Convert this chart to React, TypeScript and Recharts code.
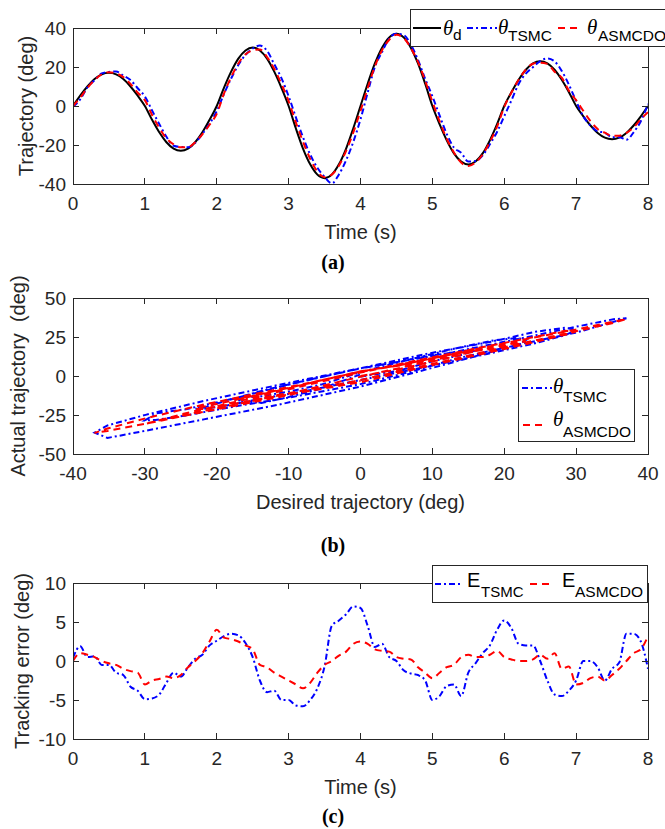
import React from 'react';
import { LineChart, Line, XAxis, YAxis, Legend } from 'recharts';

// ---------- data ----------
const time = [
  0, 0.1, 0.2, 0.3, 0.4, 0.5, 0.6, 0.7, 0.8, 0.9,
  1, 1.1, 1.2, 1.3, 1.4, 1.5, 1.6, 1.7, 1.8, 1.9,
  2, 2.1, 2.2, 2.3, 2.4, 2.5, 2.6, 2.7, 2.8, 2.9,
  3, 3.1, 3.2, 3.3, 3.4, 3.5, 3.6, 3.7, 3.8, 3.9,
  4, 4.1, 4.2, 4.3, 4.4, 4.5, 4.6, 4.7, 4.8, 4.9,
  5, 5.1, 5.2, 5.3, 5.4, 5.5, 5.6, 5.7, 5.8, 5.9,
  6, 6.1, 6.2, 6.3, 6.4, 6.5, 6.6, 6.7, 6.8, 6.9,
  7, 7.1, 7.2, 7.3, 7.4, 7.5, 7.6, 7.7, 7.8, 7.9,
  8,
];

const thetaD = [
  0, 5.3, 10, 13.8, 16.2, 17, 16.2, 13.8, 10, 5.3,
  0, -7.1, -13.5, -18.6, -21.9, -23, -21.9, -18.6, -13.5, -7.1,
  0, 9.3, 17.6, 24.3, 28.5, 30, 28.5, 24.3, 17.6, 9.3,
  0, -11.4, -21.8, -29.9, -35.2, -37, -35.2, -29.9, -21.8, -11.4,
  0, 11.4, 21.8, 29.9, 35.2, 37, 35.2, 29.9, 21.8, 11.4,
  0, -9.3, -17.6, -24.3, -28.5, -30, -28.5, -24.3, -17.6, -9.3,
  0, 7.1, 13.5, 18.6, 21.9, 23, 21.9, 18.6, 13.5, 7.1,
  0, -5.3, -10, -13.8, -16.2, -17, -16.2, -13.8, -10, -5.3,
  0,
];

const thetaTSMC = [
  -0.4, 3.4, 9.5, 13.2, 16.7, 17.5, 17.7, 15.6, 13.3, 9.1,
  4.9, -2.3, -9.2, -15.8, -20.4, -21, -21.1, -18.9, -14.3, -9.1,
  -2.6, 6.1, 14.1, 21, 26.2, 29.5, 31, 28.3, 21.4, 14.3,
  5, -5.7, -16, -24.9, -31.7, -36.3, -39.7, -35.1, -27.8, -18.4,
  -6.8, 6.9, 20, 27.7, 34.7, 37, 36.4, 31.5, 23.6, 13.9,
  5, -4.8, -14.4, -21.3, -24, -28.5, -28.2, -25.3, -19.6, -13.3,
  -5.2, 2.9, 11.3, 16.6, 19.9, 23, 24.4, 22.9, 18, 10.9,
  2.5, -5.3, -10, -13, -13.7, -16, -16, -17.3, -13.5, -7.8,
  1,
];

const thetaASMCDO = [
  0, 4.3, 9.2, 13.3, 16.2, 17.3, 16.7, 14.8, 11.3, 6.8,
  3, -4.6, -11.2, -16.6, -19.7, -21.2, -21.1, -18.6, -14.5, -9.6,
  -4, 6.3, 14.8, 21.8, 26.5, 28.5, 29, 25.1, 19.1, 11.3,
  2.5, -8.4, -18.3, -27.1, -33.7, -36.5, -35.2, -30.6, -23, -13.6,
  -2.5, 9.2, 20.3, 28.6, 34, 36.5, 34.9, 29.7, 22.6, 12.9,
  2.2, -7.8, -16.8, -23.8, -29, -30.8, -29, -24.8, -18.4, -10.6,
  -0.5, 6.9, 13.5, 18.6, 21.7, 22.2, 21.6, 17.6, 14.5, 7.8,
  3, -2.5, -7.8, -11.8, -13.7, -15.2, -15.2, -13.8, -11, -6.8,
  -3.2,
];

const errTSMC = [
  0.4, 1.9, 0.5, 0.6, -0.5, -0.5, -1.5, -1.8, -3.3, -3.8,
  -4.9, -4.8, -4.3, -2.8, -1.5, -2, -0.8, 0.3, 0.8, 2,
  2.6, 3.2, 3.5, 3.3, 2.3, 0.5, -2.5, -4, -3.8, -5,
  -5, -5.7, -5.8, -5, -3.5, -0.7, 4.5, 5.2, 6, 7,
  6.8, 4.5, 1.8, 2.2, 0.5, 0, -1.2, -1.6, -1.8, -2.5,
  -5, -4.5, -3.2, -3, -4.5, -1.5, -0.3, 1, 2, 4,
  5.2, 4.2, 2.2, 2, 2, 0, -2.5, -4.3, -4.5, -3.8,
  -2.5, 0, 0, -0.8, -2.5, -1, -0.2, 3.5, 3.5, 2.5,
  -1,
];

const errASMCDO = [
  0, 1, 0.8, 0.5, 0, -0.3, -0.5, -1, -1.3, -1.5,
  -3, -2.5, -2.3, -2, -2.2, -1.8, -0.8, 0, 1, 2.5,
  4, 3, 2.8, 2.5, 2, 1.5, -0.5, -0.8, -1.5, -2,
  -2.5, -3, -3.5, -2.8, -1.5, -0.5, 0, 0.7, 1.2, 2.2,
  2.5, 2.2, 1.5, 1.3, 1.2, 0.5, 0.3, 0.2, -0.8, -1.5,
  -2.2, -1.5, -0.8, -0.5, 0.5, 0.8, 0.5, 0.5, 0.8, 1.3,
  0.5, 0.2, 0, 0, 0.2, 0.8, 0.3, 1, -1, -0.7,
  -3, -2.8, -2.2, -2, -2.5, -1.8, -1, 0, 1, 1.5,
  3.2,
];

const timeTicks = [0, 1, 2, 3, 4, 5, 6, 7, 8];
const trajTicks = [-40, -20, 0, 20, 40];
const desiredTicks = [-40, -30, -20, -10, 0, 10, 20, 30, 40];
const actualTicks = [-50, -25, 0, 25, 50];
const errTicks = [-10, -5, 0, 5, 10];

const rows = time.map((t, i) => ({
  t,
  d: thetaD[i],
  ts: thetaTSMC[i],
  as: thetaASMCDO[i],
  es: errTSMC[i],
  ea: errASMCDO[i],
}));

// ---------- styles ----------
const SANS = "'Liberation Sans', Arial, Helvetica, sans-serif";
const SERIF = "'Liberation Serif', 'Times New Roman', serif";
const AX = '#262626';
const BLUE = '#0000ff';
const RED = '#ff0000';
const DASHDOT = '6 3 2 3';
const DASH = '7 5';
const tickStyle = { fill: AX, fontSize: 19, fontFamily: SANS };

// chart geometry (page pixels)
const CHART_W = 665;
const PLOT_LEFT = 73;
const PLOT_RIGHT = 648;
const PLOT_H = 156;
const AXIS_H = 30;
const YAXIS_W = 73;
const TICK_LEN = 6;

// legend boxes (page pixels)
const legendBoxA = { left: 410, top: 9, width: 262, height: 38 };
const legendBoxB = { left: 518, top: 369, width: 117, height: 73 };
const legendBoxC = { left: 432, top: 565, width: 216, height: 38 };

const xLabel = (value: string) => ({
  value,
  position: 'bottom' as const,
  offset: 11,
  fill: AX,
  fontSize: 20,
  fontFamily: SANS,
});
const yLabel = (value: string, dx: number) => ({
  value,
  angle: -90,
  position: 'insideLeft' as const,
  offset: 22,
  dx,
  fill: AX,
  fontSize: 20,
  fontFamily: SANS,
  style: { textAnchor: 'middle' },
});

const Theta = ({ x, y }: { x: number; y: number }) => (
  <text x={x} y={y} fontFamily={SERIF} fontStyle="italic" fontSize={21} fill="#000">
    θ
  </text>
);
const Sub = ({ x, y, t, size = 15.5 }: { x: number; y: number; t: string; size?: number }) => (
  <text x={x} y={y} fontFamily={SANS} fontSize={size} fill="#000">
    {t}
  </text>
);

const LegendA = () => (
  <svg width={262} height={38} style={{ display: 'block' }}>
    <rect x={0.5} y={0.5} width={261} height={37} fill="#fff" stroke={AX} />
    <line x1={3} y1={19} x2={31} y2={19} stroke="#000" strokeWidth={2} />
    <Theta x={33} y={26} />
    <Sub x={43} y={31} t="d" />
    <line x1={57} y1={19} x2={87} y2={19} stroke={BLUE} strokeWidth={2} strokeDasharray={DASHDOT} />
    <Theta x={88} y={25} />
    <Sub x={98} y={32} t="TSMC" />
    <line x1={148} y1={19} x2={172} y2={19} stroke={RED} strokeWidth={2} strokeDasharray={DASH} />
    <Theta x={177} y={25} />
    <Sub x={188} y={32} t="ASMCDO" />
  </svg>
);

const LegendB = () => (
  <svg width={117} height={73} style={{ display: 'block' }}>
    <rect x={0.5} y={0.5} width={116} height={72} fill="#fff" stroke={AX} />
    <line x1={4} y1={19} x2={34} y2={19} stroke={BLUE} strokeWidth={2} strokeDasharray={DASHDOT} />
    <Theta x={35} y={24} />
    <Sub x={45} y={33} t="TSMC" />
    <line x1={5} y1={56} x2={29} y2={56} stroke={RED} strokeWidth={2} strokeDasharray={DASH} />
    <Theta x={35} y={57} />
    <Sub x={45} y={68} t="ASMCDO" />
  </svg>
);

const LegendC = () => (
  <svg width={216} height={38} style={{ display: 'block' }}>
    <rect x={0.5} y={0.5} width={215} height={37} fill="#fff" stroke={AX} />
    <line x1={3} y1={19} x2={31} y2={19} stroke={BLUE} strokeWidth={2} strokeDasharray={DASHDOT} />
    <Sub x={35} y={22} t="E" size={20} />
    <Sub x={49} y={32} t="TSMC" size={15} />
    <line x1={98} y1={19} x2={122} y2={19} stroke={RED} strokeWidth={2} strokeDasharray={DASH} />
    <Sub x={130} y={22} t="E" size={20} />
    <Sub x={143} y={32} t="ASMCDO" size={15.5} />
  </svg>
);

const Caption = ({ text, cy }: { text: string; cy: number }) => (
  <div
    style={{
      position: 'absolute',
      left: 0,
      width: 666,
      top: cy - 12,
      height: 24,
      lineHeight: '24px',
      textAlign: 'center',
      fontFamily: SERIF,
      fontWeight: 'bold',
      fontSize: 20,
      color: '#000',
    }}
  >
    {text}
  </div>
);

const legendCommon = {
  layout: 'horizontal' as const,
  verticalAlign: 'middle' as const,
  align: 'center' as const,
};

// MATLAB-style box with inward ticks on all four sides
type BoxProps = {
  top: number;
  xDomain: [number, number];
  xTicks: number[];
  yDomain: [number, number];
  yTicks: number[];
};
const AxesBox = ({ top, xDomain, xTicks, yDomain, yTicks }: BoxProps) => {
  const bottom = top + PLOT_H;
  const x0 = PLOT_LEFT;
  const x1 = PLOT_RIGHT;
  const px = (v: number) => x0 + ((v - xDomain[0]) / (xDomain[1] - xDomain[0])) * (x1 - x0);
  const py = (v: number) => bottom - ((v - yDomain[0]) / (yDomain[1] - yDomain[0])) * (bottom - top);
  return (
    <g>
      <rect x={x0} y={top} width={x1 - x0} height={bottom - top} />
      {xTicks.map((v) => (
        <g key={`x${v}`}>
          <line x1={px(v)} y1={bottom} x2={px(v)} y2={bottom - TICK_LEN} />
          <line x1={px(v)} y1={top} x2={px(v)} y2={top + TICK_LEN} />
        </g>
      ))}
      {yTicks.map((v) => (
        <g key={`y${v}`}>
          <line x1={x0} y1={py(v)} x2={x0 + TICK_LEN} y2={py(v)} />
          <line x1={x1} y1={py(v)} x2={x1 - TICK_LEN} y2={py(v)} />
        </g>
      ))}
    </g>
  );
};

type PanelProps = {
  top: number;
  height: number;
  plotTop: number;
  xKey: string;
  xDomain: [number, number];
  xTicks: number[];
  yDomain: [number, number];
  yTicks: number[];
  xTitle: string;
  yTitle: string;
  yDx: number;
  legend: React.ReactNode;
  legendBox: { left: number; top: number; width: number; height: number };
  children: React.ReactNode;
};

const Panel = ({
  top,
  height,
  plotTop,
  xKey,
  xDomain,
  xTicks,
  yDomain,
  yTicks,
  xTitle,
  yTitle,
  yDx,
  legend,
  legendBox,
  children,
}: PanelProps) => {
  const marginTop = plotTop - top;
  return (
    <div style={{ position: 'absolute', left: 0, top }}>
      <LineChart
        width={CHART_W}
        height={height}
        data={rows}
        margin={{
          top: marginTop,
          right: CHART_W - PLOT_RIGHT,
          bottom: height - marginTop - PLOT_H - AXIS_H,
          left: PLOT_LEFT - YAXIS_W,
        }}
      >
        <XAxis
          dataKey={xKey}
          type="number"
          domain={xDomain}
          ticks={xTicks}
          allowDataOverflow
          height={AXIS_H}
          axisLine={false}
          tickLine={false}
          tickSize={-TICK_LEN}
          tickMargin={19}
          tick={tickStyle}
          label={xLabel(xTitle)}
        />
        <YAxis
          type="number"
          domain={yDomain}
          ticks={yTicks}
          allowDataOverflow
          width={YAXIS_W}
          axisLine={false}
          tickLine={false}
          tickSize={-TICK_LEN}
          tickMargin={13}
          tick={tickStyle}
          label={yLabel(yTitle, yDx)}
        />
        {children}
        <Legend
          {...legendCommon}
          content={() => legend}
          wrapperStyle={{ ...legendBox, top: legendBox.top - top, zIndex: 5 }}
        />
      </LineChart>
    </div>
  );
};

export default function App() {
  return (
    <div
      style={{
        position: 'absolute',
        left: 0,
        top: 0,
        width: 665,
        height: 829,
        overflow: 'hidden',
        background: '#fff',
      }}
    >
      {/* (a) */}
      <Panel
        top={0}
        height={280}
        plotTop={28}
        xKey="t"
        xDomain={[0, 8]}
        xTicks={timeTicks}
        yDomain={[-40, 40]}
        yTicks={trajTicks}
        xTitle="Time (s)"
        yTitle="Trajectory (deg)"
        yDx={4}
        legend={<LegendA />}
        legendBox={legendBoxA}
      >
        <Line dataKey="d" type="monotone" stroke="#000" strokeWidth={2} dot={false} isAnimationActive={false} />
        <Line dataKey="ts" type="monotone" stroke={BLUE} strokeWidth={2} strokeDasharray={DASHDOT} dot={false} isAnimationActive={false} />
        <Line dataKey="as" type="monotone" stroke={RED} strokeWidth={2} strokeDasharray={DASH} dot={false} isAnimationActive={false} />
      </Panel>

      {/* (b) */}
      <Panel
        top={262}
        height={288}
        plotTop={298}
        xKey="d"
        xDomain={[-40, 40]}
        xTicks={desiredTicks}
        yDomain={[-50, 50]}
        yTicks={actualTicks}
        xTitle="Desired trajectory (deg)"
        yTitle={'Actual trajectory\u00a0 (deg)'}
        yDx={-4}
        legend={<LegendB />}
        legendBox={legendBoxB}
      >
        <Line dataKey="ts" type="linear" stroke={BLUE} strokeWidth={2} strokeDasharray={DASHDOT} dot={false} isAnimationActive={false} />
        <Line dataKey="as" type="linear" stroke={RED} strokeWidth={2} strokeDasharray={DASH} dot={false} isAnimationActive={false} />
      </Panel>

      {/* (c) */}
      <Panel
        top={550}
        height={279}
        plotTop={583}
        xKey="t"
        xDomain={[0, 8]}
        xTicks={timeTicks}
        yDomain={[-10, 10]}
        yTicks={errTicks}
        xTitle="Time (s)"
        yTitle="Tracking error (deg)"
        yDx={0}
        legend={<LegendC />}
        legendBox={legendBoxC}
      >
        <Line dataKey="es" type="monotone" stroke={BLUE} strokeWidth={2} strokeDasharray={DASHDOT} dot={false} isAnimationActive={false} />
        <Line dataKey="ea" type="monotone" stroke={RED} strokeWidth={2} strokeDasharray={DASH} dot={false} isAnimationActive={false} />
      </Panel>

      {/* axes frames drawn above the plots, masked out where the legend boxes sit */}
      <svg
        width={665}
        height={829}
        style={{ position: 'absolute', left: 0, top: 0, zIndex: 2, pointerEvents: 'none' }}
      >
        <defs>
          <mask id="legend-holes" maskUnits="userSpaceOnUse" x={0} y={0} width={665} height={829}>
            <rect x={0} y={0} width={665} height={829} fill="#fff" />
            {[legendBoxA, legendBoxB, legendBoxC].map((b, i) => (
              <rect key={i} x={b.left + 1} y={b.top + 1} width={b.width - 1} height={b.height - 1} fill="#000" />
            ))}
          </mask>
        </defs>
        <g mask="url(#legend-holes)" stroke={AX} strokeWidth={1} fill="none" shapeRendering="crispEdges">
          <AxesBox top={28} xDomain={[0, 8]} xTicks={timeTicks} yDomain={[-40, 40]} yTicks={trajTicks} />
          <AxesBox top={298} xDomain={[-40, 40]} xTicks={desiredTicks} yDomain={[-50, 50]} yTicks={actualTicks} />
          <AxesBox top={583} xDomain={[0, 8]} xTicks={timeTicks} yDomain={[-10, 10]} yTicks={errTicks} />
        </g>
      </svg>

      <Caption text="(a)" cy={262} />
      <Caption text="(b)" cy={545} />
      <Caption text="(c)" cy={816} />
    </div>
  );
}
